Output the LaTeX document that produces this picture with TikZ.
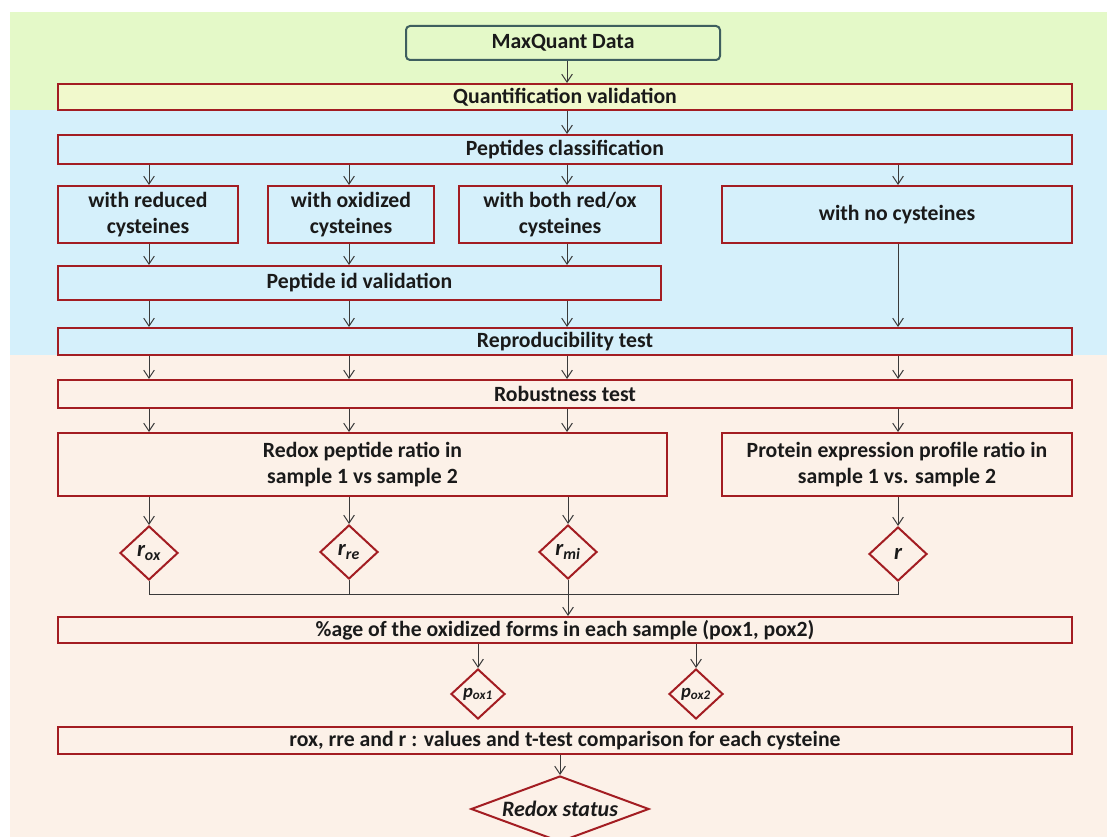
\documentclass[tikz,border=0pt]{standalone}
\usepackage{fontspec}
\setmainfont{Carlito}
\usetikzlibrary{shapes.geometric,arrows.meta,fit}
\definecolor{bgG}{HTML}{E4F9C8}
\definecolor{bgB}{HTML}{D5F0FB}
\definecolor{bgP}{HTML}{FCF1E8}
\definecolor{bgQ}{HTML}{F1F9CC}
\definecolor{bred}{HTML}{A31D22}
\definecolor{mqc}{HTML}{3E5F5F}
\definecolor{arrc}{HTML}{3A3A3A}
\definecolor{txt}{HTML}{1A1A1A}
\begin{document}
\begin{tikzpicture}[x=0.75pt,y=-0.75pt,
  box/.style={draw=bred, line width=1.5pt, inner sep=0pt},
  mqbox/.style={draw=mqc, line width=1.5pt, rounded corners=3pt, inner sep=0pt, fill=bgG},
  lbl/.style={inner sep=0pt, align=center, text=txt, font=\bfseries\fontsize{16.3}{20}\selectfont},
  dia/.style={diamond, draw=bred, line width=1.5pt, inner sep=0pt, aspect=1.07, text=txt,
    minimum width=43.5pt, minimum height=40.5pt, font=\bfseries\itshape\fontsize{17}{20}\selectfont},
  sdia/.style={dia, minimum width=40.5pt, minimum height=37.5pt, aspect=1.2, font=\bfseries\itshape\fontsize{14}{16}\selectfont},
  arr/.style={draw=arrc, line width=0.75pt, -{Straight Barb[length=6pt,width=8pt]}},
  ln/.style={draw=arrc, line width=0.75pt}]
\clip (0,0) rectangle (1107,837);
\fill[white] (0,0) rectangle (1107,837);
\fill[bgG] (10,12) rectangle (1107,110);
\fill[bgB] (10,110) rectangle (1107,355);
\fill[bgP] (10,355) rectangle (1107,837);
% columns
\coordinate (x1) at (149,0);
\coordinate (x2) at (349,0);
\coordinate (x3) at (567,0);
\coordinate (x4) at (898,0);
\coordinate (jn) at (0,595);
% boxes
\node[mqbox, fit={(406,26)(720,60)}] (mq) {};
\node[lbl] (mqT) at (mq) {MaxQuant Data};
\node[box, fill=bgQ, fit={(58,84)(1072,110)}] (qv) {};
\node[lbl] (qvT) at (qv) {Quantification validation};
\node[box, fill=bgB, fit={(58,135)(1072,164)}] (pc) {};
\node[lbl] (pcT) at (pc) {Peptides classification};
\node[box, fill=bgB, fit={(58,186)(238,243)}] (red) {};
\node[lbl] (redT) at (red) {with reduced\\cysteines};
\node[box, fill=bgB, fit={(268,186)(434,243)}] (oxi) {};
\node[lbl] (oxiT) at (oxi) {with oxidized\\cysteines};
\node[box, fill=bgB, fit={(459,186)(661,243)}] (both) {};
\node[lbl] (bothT) at (both) {with both red/ox\\cysteines};
\node[box, fill=bgB, fit={(722,186)(1072,243)}] (none) {};
\node[lbl] (noneT) at (none) {with no cysteines};
\node[box, fill=bgB, fit={(58,266)(661,300)}] (pid) {};
\node[lbl] (pidT) at (pid) {Peptide id validation};
\node[box, fill=bgB, fit={(58,328)(1072,355)}] (rep) {};
\node[lbl] (repT) at (rep) {Reproducibility test};
\node[box, fill=bgP, fit={(58,380)(1072,408)}] (rob) {};
\node[lbl] (robT) at (rob) {Robustness test};
\node[box, fill=bgP, fit={(58,433)(667,496)}] (rdx) {};
\node[lbl] (rdxT) at (rdx) {Redox peptide ratio in\\sample 1 vs sample 2};
\node[box, fill=bgP, fit={(722,433)(1072,496)}] (prot) {};
\node[lbl] (protT) at (prot) {Protein expression profile ratio in\\sample 1 vs. sample 2};
\node[box, fill=bgP, fit={(58,617)(1072,643)}] (pct) {};
\node[lbl] (pctT) at (pct) {\%age of the oxidized forms in each sample (pox1, pox2)};
\node[box, fill=bgP, fit={(58,727)(1072,754)}] (fin) {};
\node[lbl] (finT) at (fin) {rox, rre and r : values and t-test comparison for each cysteine};
% diamonds
\node[dia, fill=bgP] (rox) at (149,553) {r\textsubscript{ox}};
\node[dia, fill=bgP] (rre) at (349,552) {r\textsubscript{re}};
\node[dia, fill=bgP] (rmi) at (568,552) {r\textsubscript{mi}};
\node[dia, fill=bgP] (rr) at (898,554) {r};
\node[sdia, fill=bgP] (pox1) at (478,694) {p\textsubscript{ox1}};
\node[sdia, fill=bgP] (pox2) at (696,694) {p\textsubscript{ox2}};
\node[dia, fill=bgP, aspect=2.7, minimum width=133.5pt, minimum height=49.5pt,
  font=\bfseries\itshape\fontsize{16.5}{20}\selectfont] (rs) at (560,809) {Redox status};
% connectors
\draw[arr] (mq.south -| x3) -- (qv.north -| x3);
\draw[arr] (qv.south -| x3) -- (pc.north -| x3);
\draw[arr] (pc.south -| x1) -- (red.north -| x1);
\draw[arr] (pc.south -| x2) -- (oxi.north -| x2);
\draw[arr] (pc.south -| x3) -- (both.north -| x3);
\draw[arr] (pc.south -| x4) -- (none.north -| x4);
\draw[arr] (red.south -| x1) -- (pid.north -| x1);
\draw[arr] (oxi.south -| x2) -- (pid.north -| x2);
\draw[arr] (both.south -| x3) -- (pid.north -| x3);
\draw[arr] (pid.south -| x1) -- (rep.north -| x1);
\draw[arr] (pid.south -| x2) -- (rep.north -| x2);
\draw[arr] (pid.south -| x3) -- (rep.north -| x3);
\draw[arr] (none.south -| x4) -- (rep.north -| x4);
\draw[arr] (rep.south -| x1) -- (rob.north -| x1);
\draw[arr] (rep.south -| x2) -- (rob.north -| x2);
\draw[arr] (rep.south -| x3) -- (rob.north -| x3);
\draw[arr] (rep.south -| x4) -- (rob.north -| x4);
\draw[arr] (rob.south -| x1) -- (rdx.north -| x1);
\draw[arr] (rob.south -| x2) -- (rdx.north -| x2);
\draw[arr] (rob.south -| x3) -- (rdx.north -| x3);
\draw[arr] (rob.south -| x4) -- (prot.north -| x4);
\draw[arr] (rdx.south -| rox.north) -- (rox.north);
\draw[arr] (rdx.south -| rre.north) -- (rre.north);
\draw[arr] (rdx.south -| rmi.north) -- (rmi.north);
\draw[arr] (prot.south -| rr.north) -- (rr.north);
\draw[ln] (rox.south) -- (rox.south |- jn) -- (rr.south |- jn) -- (rr.south);
\draw[ln] (rre.south) -- (rre.south |- jn);
\draw[ln] (rmi.south) -- (rmi.south |- jn);
\draw[arr] (rmi.south |- jn) -- (pct.north -| rmi.south);
\draw[arr] (pct.south -| pox1.north) -- (pox1.north);
\draw[arr] (pct.south -| pox2.north) -- (pox2.north);
\draw[arr] (fin.south -| rs.north) -- (rs.north);
\end{tikzpicture}
\end{document}
